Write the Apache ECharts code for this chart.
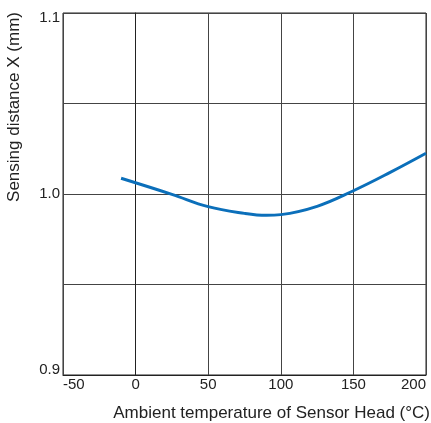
<!DOCTYPE html>
<html>
<head>
<meta charset="utf-8">
<script src="https://cdn.jsdelivr.net/npm/echarts@6/dist/echarts.min.js"></script>
<style>
    html, body { margin: 0; padding: 0; background: #fff; }
    #chart { width: 431px; height: 423px; }
</style>
</head>
<body>
<div id="chart"></div>
<script>
// temperature (°C) and sensing distance (mm)
var temps = [-10, 25, 50, 75, 90, 100, 125, 150, 175, 200]
var distances = [1.0087, 0.9998, 0.9930, 0.9893, 0.9882, 0.9886, 0.9932, 1.0018, 1.0118, 1.0225]
var yLabels = ['0.9', '1.0', '1.1']

var chart = echarts.init(document.getElementById('chart'))
var points = temps.map(function (t, i) { return [t, distances[i]] })

chart.setOption({
    animation: false,
    grid: {
        left: 63,
        top: 13,
        right: 5,
        bottom: 48,
        outerBoundsMode: 'none',
        containLabel: false,
        show: true,
        borderColor: '#222',
        borderWidth: 1
    },
    xAxis: {
        type: 'value',
        min: -50,
        max: 200,
        interval: 50,
        name: 'Ambient temperature of Sensor Head (°C)',
        nameLocation: 'end',
        nameGap: 4,
        nameTextStyle: {
            fontFamily: 'Liberation Sans',
            fontSize: 17,
            color: '#222',
            align: 'right',
            verticalAlign: 'top',
            padding: [30, 0, 0, 0]
        },
        axisLine: { lineStyle: { color: '#222', width: 1 } },
        axisTick: { show: false },
        axisLabel: {
            fontFamily: 'Liberation Sans',
            fontSize: 15,
            color: '#222',
            margin: 2,
            alignMinLabel: 'left',
            alignMaxLabel: 'right'
        },
        splitLine: { lineStyle: { color: '#444', width: 1 } }
    },
    yAxis: {
        type: 'value',
        min: 0.9,
        max: 1.1,
        interval: 0.05,
        name: 'Sensing distance X (mm)',
        nameLocation: 'middle',
        nameGap: 40,
        nameTextStyle: {
            fontFamily: 'Liberation Sans',
            fontSize: 17,
            color: '#222',
            padding: [0, 0, 0, 174]
        },
        axisLine: { lineStyle: { color: '#222', width: 1 } },
        axisTick: { show: false },
        axisLabel: {
            fontFamily: 'Liberation Sans',
            fontSize: 15,
            color: '#222',
            margin: 3,
            formatter: function (v) {
                if (Math.abs(v - 1.0) < 1e-6) return yLabels[1]
                if (Math.abs(v - 0.9) < 1e-6) return '{low|' + yLabels[0] + '}'
                if (Math.abs(v - 1.1) < 1e-6) return '{high|' + yLabels[2] + '}'
                return ''
            },
            rich: {
                low: {
                    fontFamily: 'Liberation Sans',
                    fontSize: 15,
                    color: '#222',
                    padding: [0, 0, 10, 0]
                },
                high: {
                    fontFamily: 'Liberation Sans',
                    fontSize: 15,
                    color: '#222',
                    padding: [10, 0, 0, 0]
                }
            }
        },
        splitLine: { lineStyle: { color: '#444', width: 1 } }
    },
    series: [
        {
            type: 'line',
            smooth: 0.4,
            symbol: 'none',
            lineStyle: { color: '#0b6fba', width: 3 },
            data: points
        }
    ]
})
</script>
</body>
</html>
